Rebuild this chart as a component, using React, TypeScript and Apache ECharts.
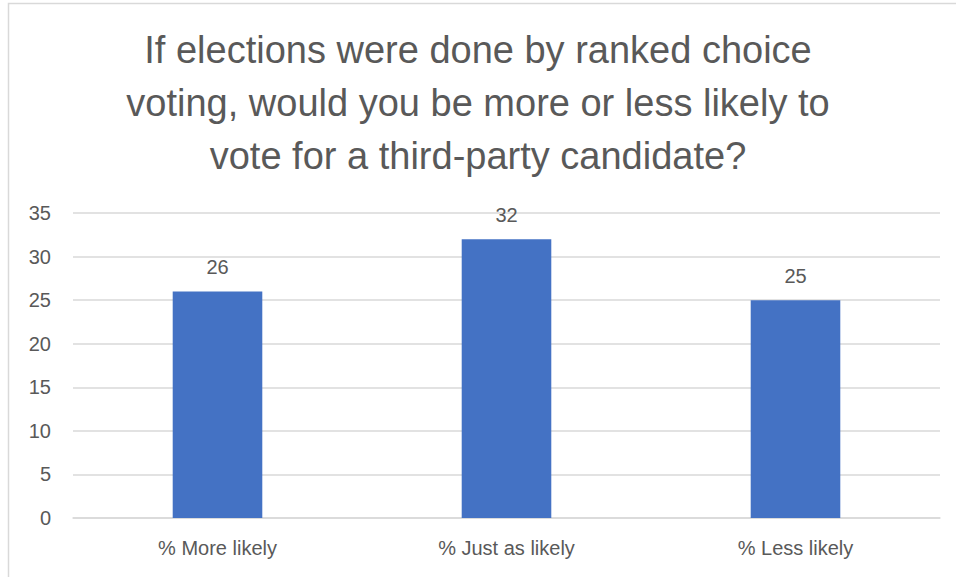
import React, { useEffect, useRef } from "react";
import * as echarts from "echarts";

const titleLines = [
  "If elections were done by ranked choice",
  "voting, would you be more or less likely to",
  "vote for a third-party candidate?",
];
const categories = ["% More likely", "% Just as likely", "% Less likely"];
const values = [26, 32, 25];
const yMin = 0;
const yMax = 35;
const yInterval = 5;

const FONT = "'Liberation Sans', Arial, sans-serif";
const TEXT = "#595959";

export default function App() {
  const ref = useRef<HTMLDivElement>(null);
  useEffect(() => {
    if (!ref.current) return;
    const chart = echarts.init(ref.current, undefined, { renderer: "svg" });
    chart.setOption({
      animation: false,
      backgroundColor: "#ffffff",
      textStyle: { fontFamily: FONT },
      title: {
        text: titleLines.join("\n"),
        left: "center",
        top: 18,
        textStyle: {
          fontFamily: FONT,
          fontSize: 38,
          fontWeight: "normal",
          color: TEXT,
          lineHeight: 53,
        },
      },
      graphic: [
        {
          type: "rect",
          shape: { x: 8.5, y: 3.5, width: 1000, height: 1000 },
          style: { fill: "none", stroke: "#d9d9d9", lineWidth: 1.5 },
          silent: true,
        },
      ],
      grid: { left: 73, right: 16, top: 213, bottom: 59, containLabel: false },
      xAxis: {
        type: "category",
        data: categories,
        axisLine: { show: true, lineStyle: { color: "#d9d9d9", width: 1.5 } },
        axisTick: { show: false },
        axisLabel: { color: TEXT, fontSize: 20, fontFamily: FONT, margin: 20 },
      },
      yAxis: {
        type: "value",
        min: yMin,
        max: yMax,
        interval: yInterval,
        axisLine: { show: false },
        axisTick: { show: false },
        splitLine: { lineStyle: { color: "#d9d9d9", width: 1.5 } },
        axisLabel: { color: TEXT, fontSize: 20, fontFamily: FONT, margin: 22 },
      },
      series: [
        {
          type: "bar",
          data: values,
          barWidth: "31%",
          itemStyle: { color: "#4472C4" },
          label: {
            show: true,
            position: "top",
            distance: 14,
            color: TEXT,
            fontSize: 20,
            fontFamily: FONT,
          },
        },
      ],
    });
    return () => chart.dispose();
  }, []);
  return (
    <div
      ref={ref}
      style={{ position: "absolute", left: 0, top: 0, width: 956, height: 577 }}
    />
  );
}
